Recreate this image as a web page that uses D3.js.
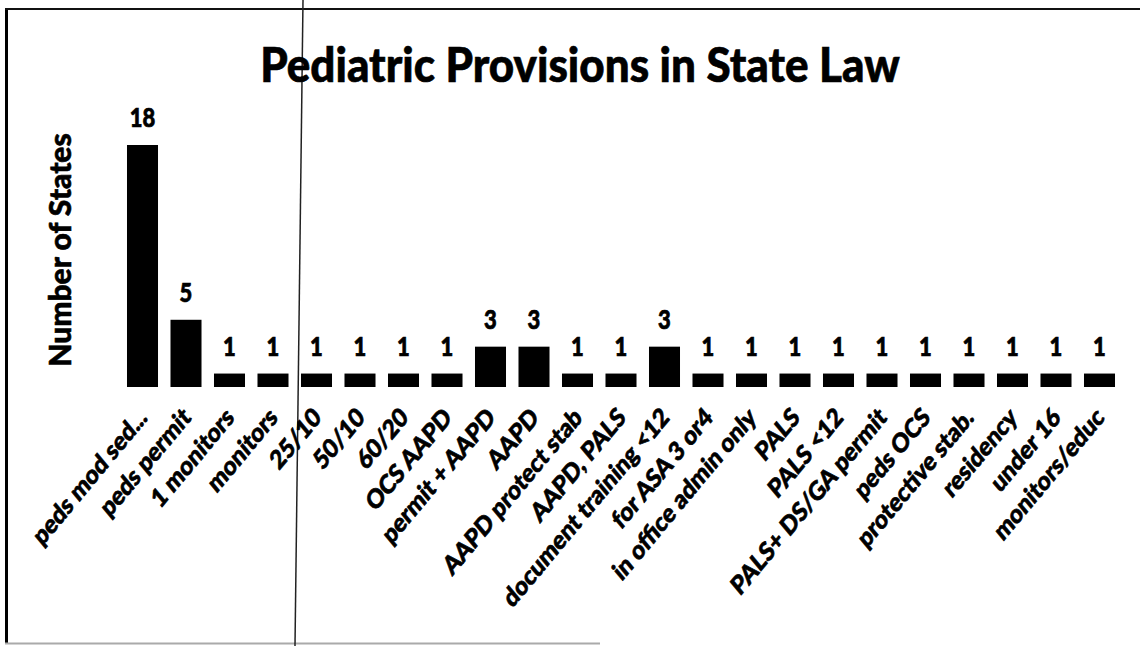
<!DOCTYPE html>
<html>
<head>
<meta charset="utf-8">
<script src="https://cdn.jsdelivr.net/npm/d3@7"></script>
<style>
  html, body { margin: 0; padding: 0; background: #fff; }
  #chart { width: 1140px; height: 646px; }
  text { font-family: Lato, "Open Sans", sans-serif; font-weight: 900; fill: #000;
         stroke: #000; stroke-width: 0.6px; }
</style>
</head>
<body>
<div id="chart"></div>
<script>
// Provisions and how many states have each one
const categories = [
  "peds mod sed...", "peds permit", "1 monitors", "monitors", "25/10", "50/10",
  "60/20", "OCS AAPD", "permit + AAPD", "AAPD", "AAPD protect stab", "AAPD, PALS",
  "document training <12", "for ASA 3 or4", "in office admin only", "PALS",
  "PALS <12", "PALS+ DS/GA permit", "peds OCS", "protective stab.", "residency",
  "under 16", "monitors/educ"
];
const values = [18, 5, 1, 1, 1, 1, 1, 1, 3, 3, 1, 1, 3, 1, 1, 1, 1, 1, 1, 1, 1, 1, 1];
const yDomain = [0, 18];

const chartTitle = "Pediatric Provisions in State Law";
const yTitle = "Number of States";

const width = 1140;
const height = 646;
const stretch = 1.2; // the scan is a bit taller than the original

const svg = d3.select("#chart")
  .append("svg")
    .attr("width", width)
    .attr("height", height);

// scan frame and the stray vertical line
svg.append("line")
  .attr("x1", 6.5).attr("x2", 6.5).attr("y1", 8).attr("y2", 644)
  .attr("stroke", "#000").attr("stroke-width", 3);
svg.append("line")
  .attr("x1", 5).attr("x2", width).attr("y1", 9).attr("y2", 9)
  .attr("stroke", "#111").attr("stroke-width", 2);
svg.append("line")
  .attr("x1", 5).attr("x2", 600).attr("y1", 643.5).attr("y2", 643.5)
  .attr("stroke", "#aaa").attr("stroke-width", 2);
svg.append("line")
  .attr("x1", 303).attr("x2", 295).attr("y1", 0).attr("y2", height)
  .attr("stroke", "#222").attr("stroke-width", 1.5);

const x = d3.scaleBand()
  .domain(categories)
  .range([120.75, 1121.25])
  .paddingInner(0.287)
  .paddingOuter(0.1435);

const y = d3.scaleLinear()
  .domain(yDomain)
  .range([387, 145]);

// Bars
svg.append("g")
  .selectAll("rect")
  .data(values)
  .join("rect")
    .attr("x", (d, i) => x(categories[i]))
    .attr("y", d => y(d))
    .attr("width", x.bandwidth())
    .attr("height", d => y(0) - y(d))
    .attr("fill", "#000");

// Value labels above bars
svg.append("g")
  .selectAll("text")
  .data(values)
  .join("text")
    .attr("transform", (d, i) =>
      `translate(${x(categories[i]) + x.bandwidth() / 2}, ${y(d) - 18}) scale(1, ${stretch})`)
    .attr("text-anchor", "middle")
    .style("font-size", "22px")
    .text(d => d);

// Category axis, labels only
const xAxis = svg.append("g")
  .attr("transform", `translate(0, ${y(0)})`)
  .call(d3.axisBottom(x).tickSize(0).tickPadding(0));
xAxis.select(".domain").remove();
xAxis.selectAll(".tick text")
  .attr("y", 0)
  .attr("dy", 0)
  .attr("text-anchor", "end")
  .attr("transform", `translate(6, 32) scale(1, ${stretch}) rotate(-45)`)
  .style("font-size", "22px")
  .style("font-family", "Lato, 'Open Sans', sans-serif")
  .style("font-weight", "900")
  .attr("fill", "#000");

// Title
svg.append("text")
  .attr("transform", `translate(580, 82) scale(1, 1.1)`)
  .attr("text-anchor", "middle")
  .style("font-size", "44px")
  .text(chartTitle);

// Y axis title
svg.append("text")
  .attr("transform", "translate(71, 250) rotate(-90)")
  .attr("text-anchor", "middle")
  .style("font-size", "30px")
  .text(yTitle);
</script>
</body>
</html>
